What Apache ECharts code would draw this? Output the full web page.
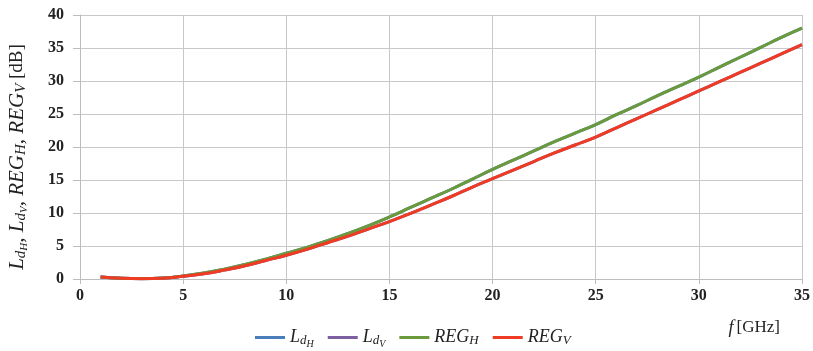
<!DOCTYPE html>
<html><head><meta charset="utf-8">
<script src="https://cdn.jsdelivr.net/npm/echarts@6/dist/echarts.min.js"></script>
<style>html,body{margin:0;padding:0;background:#fff}#c{width:813px;height:351px}</style>
</head><body><div id="c"></div>
<script>
const freq = [1,2,3,4,5,6,7,8,9,10,11,12,13,14,15,16,17,18,19,20,21,22,23,24,25,26,27,28,29,30,31,32,33,34,35];
const regH = [0.3,0.1,0.05,0.15,0.45,0.9,1.5,2.2,3.0,3.9,4.8,5.8,6.9,8.1,9.4,10.8,12.2,13.6,15.1,16.6,18.0,19.4,20.8,22.1,23.4,24.9,26.3,27.8,29.2,30.6,32.1,33.6,35.1,36.6,38.0];
const regV = [0.3,0.1,0.05,0.12,0.4,0.8,1.35,2.0,2.8,3.6,4.5,5.5,6.5,7.6,8.7,9.9,11.2,12.5,13.9,15.2,16.5,17.8,19.1,20.3,21.5,22.9,24.3,25.7,27.1,28.5,29.9,31.3,32.7,34.1,35.5];
const ldH = regH.slice();
const ldV = regV.slice();
const xTicks = {min:0, max:35, interval:5};
const yTicks = {min:0, max:40, interval:5};
const seriesNames = ['LdH','LdV','REGH','REGV'];

const serif = 'Liberation Serif';
const richBase = {
  i: {fontFamily: serif, fontStyle:'italic', fontSize:18, color:'#222'},
  s: {fontFamily: serif, fontStyle:'italic', fontSize:13, color:'#222', padding:[7,0,0,0]},
  ss:{fontFamily: serif, fontStyle:'italic', fontSize:10, color:'#222', padding:[13,0,0,0]}
};
const richY = {
  i: {fontFamily: serif, fontStyle:'italic', fontSize:21, color:'#222'},
  s: {fontFamily: serif, fontStyle:'italic', fontSize:15, color:'#222', padding:[8,0,0,0]},
  ss:{fontFamily: serif, fontStyle:'italic', fontSize:11, color:'#222', padding:[15,0,0,0]},
  n: {fontFamily: serif, fontSize:19, color:'#222'}
};
const legendFmt = {
  LdH: '{i|L}{s|d}{ss|H}',
  LdV: '{i|L}{s|d}{ss|V}',
  REGH: '{i|REG}{s|H}',
  REGV: '{i|REG}{s|V}'
};
function pairs(ys){ return freq.map((f,i)=>[f, ys[i]]); }

const chart = echarts.init(document.getElementById('c'));
chart.setOption({
  animation:false,
  grid:{left:80, right:11, top:15, bottom:72, containLabel:false, outerBoundsMode:'none'},
  legend:{
    bottom:-3, left:250, itemGap:14, itemWidth:30, itemHeight:3, icon:'rect',
    data: seriesNames,
    formatter: n => legendFmt[n],
    textStyle:{rich: richBase}
  },
  xAxis:{
    type:'value', min:xTicks.min, max:xTicks.max, interval:xTicks.interval,
    axisLine:{show:true, lineStyle:{color:'#bdbdbd'}},
    axisTick:{show:true, length:5, lineStyle:{color:'#bdbdbd'}},
    splitLine:{show:true, lineStyle:{color:'#c8c8c8', width:1}},
    axisLabel:{fontFamily:serif, fontWeight:'bold', fontSize:16, color:'#222', margin:9},
    name:'{i|f}{n|[GHz]}', nameLocation:'end', nameGap:0,
    nameTextStyle:{align:'right', verticalAlign:'top', padding:[40,22,0,0],
      rich:{i:{fontFamily:serif, fontStyle:'italic', fontSize:18, color:'#222', padding:[0,3,0,0]}, n:{fontFamily:serif, fontSize:17, color:'#222'}}}
  },
  yAxis:{
    type:'value', min:yTicks.min, max:yTicks.max, interval:yTicks.interval,
    axisLine:{show:true, lineStyle:{color:'#bdbdbd'}},
    axisTick:{show:true, length:7, lineStyle:{color:'#bdbdbd'}},
    splitLine:{show:true, lineStyle:{color:'#c8c8c8', width:1}},
    axisLabel:{fontFamily:serif, fontWeight:'bold', fontSize:16, color:'#222', margin:16},
    name:'{i|L}{s|d}{ss|H}{i|, L}{s|d}{ss|V}{i|, REG}{s|H}{i|, REG}{s|V}{n| [dB]}',
    nameLocation:'middle', nameGap:50, nameRotate:90,
    nameTextStyle:{rich: richY, padding:[0,20,0,0]}
  },
  series:[
    {name:'LdH', type:'line', data:pairs(ldH), smooth:true, showSymbol:false, lineStyle:{width:3, color:'#4a7ebb'}, itemStyle:{color:'#4a7ebb'}},
    {name:'LdV', type:'line', data:pairs(ldV), smooth:true, showSymbol:false, lineStyle:{width:3, color:'#7d60a0'}, itemStyle:{color:'#7d60a0'}},
    {name:'REGH', type:'line', data:pairs(regH), smooth:true, showSymbol:false, lineStyle:{width:3, color:'#6b9a3c'}, itemStyle:{color:'#6b9a3c'}},
    {name:'REGV', type:'line', data:pairs(regV), smooth:true, showSymbol:false, lineStyle:{width:3, color:'#ef3b24'}, itemStyle:{color:'#ef3b24'}}
  ]
});
</script></body></html>
